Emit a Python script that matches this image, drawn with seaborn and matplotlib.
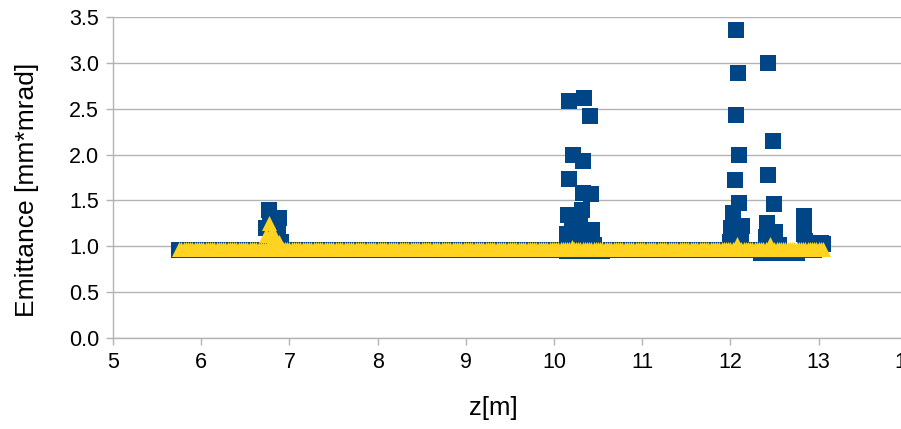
import matplotlib
matplotlib.use("Agg")
import matplotlib.pyplot as plt
import seaborn as sns

# --- data ---
# series 1 (blue squares): flat base + peaks
blue_base_z = [
    5.75, 5.85, 5.95,
    6.05, 6.15, 6.25, 6.35, 6.45, 6.55, 6.65, 6.75, 6.85, 6.95,
    7.05, 7.15, 7.25, 7.35, 7.45, 7.55, 7.65, 7.75, 7.85, 7.95,
    8.05, 8.15, 8.25, 8.35, 8.45, 8.55, 8.65, 8.75, 8.85, 8.95,
    9.05, 9.15, 9.25, 9.35, 9.45, 9.55, 9.65, 9.75, 9.85, 9.95,
    10.05, 10.15, 10.25, 10.35, 10.45, 10.55, 10.65, 10.75, 10.85, 10.95,
    11.05, 11.15, 11.25, 11.35, 11.45, 11.55, 11.65, 11.75, 11.85, 11.95,
    12.05, 12.15, 12.25, 12.35, 12.45, 12.55, 12.65, 12.75, 12.85, 12.95,
    13.05,
]
blue_base_e = [
    0.965, 0.96, 0.96,
    0.96, 0.96, 0.96, 0.96, 0.96, 0.96, 0.96, 0.96, 0.96, 0.96,
    0.96, 0.96, 0.96, 0.96, 0.96, 0.96, 0.96, 0.96, 0.96, 0.96,
    0.96, 0.96, 0.96, 0.96, 0.96, 0.96, 0.96, 0.96, 0.96, 0.96,
    0.96, 0.96, 0.96, 0.96, 0.96, 0.96, 0.96, 0.96, 0.96, 0.96,
    0.96, 0.95, 0.95, 0.95, 0.95, 0.95, 0.96, 0.96, 0.96, 0.96,
    0.96, 0.96, 0.96, 0.96, 0.96, 0.96, 0.96, 0.96, 0.96, 0.96,
    0.96, 0.96, 0.96, 0.93, 0.93, 0.93, 0.93, 0.93, 0.96, 0.96,
    1.03,
]
blue_peak_z = [
    6.74, 6.77, 6.78, 6.80, 6.85, 6.88, 6.87, 6.90,
    10.17, 10.34, 10.41, 10.22, 10.33, 10.17, 10.33, 10.42, 10.16, 10.32,
    10.43, 10.15, 10.30, 10.20, 10.25, 10.35, 10.40, 10.45, 10.20,
    12.06, 12.43, 12.09, 12.06, 12.48, 12.10, 12.43, 12.05, 12.49, 12.10,
    12.03, 12.41, 12.51, 12.01, 12.13, 12.07, 12.00, 12.12, 12.40, 12.45,
    12.50, 12.55, 12.83, 12.83, 12.84, 12.83, 12.85, 12.90, 13.03,
]
blue_peak_e = [
    1.20, 1.40, 1.30, 1.10, 1.15, 1.31, 1.20, 1.05,
    2.58, 2.61, 2.42, 2.00, 1.93, 1.735, 1.58, 1.57, 1.34, 1.40,
    1.18, 1.14, 1.25, 1.20, 1.10, 1.08, 1.05, 1.02, 1.05,
    3.35, 3.00, 2.89, 2.43, 2.15, 2.00, 1.78, 1.72, 1.46, 1.47,
    1.36, 1.25, 1.16, 1.20, 1.22, 1.10, 1.05, 1.05, 1.10, 1.05,
    1.08, 1.02, 1.33, 1.27, 1.20, 1.13, 1.06, 1.02, 1.04,
]

# series 2 (yellow triangles), densely sampled flat base + small bumps
yellow_base_z = [
    5.750, 5.775, 5.800, 5.825, 5.850, 5.875, 5.900, 5.925, 5.950, 5.975,
    6.000, 6.025, 6.050, 6.075, 6.100, 6.125, 6.150, 6.175, 6.200, 6.225,
    6.250, 6.275, 6.300, 6.325, 6.350, 6.375, 6.400, 6.425, 6.450, 6.475,
    6.500, 6.525, 6.550, 6.575, 6.600, 6.625, 6.650, 6.675, 6.700, 6.725,
    6.750, 6.775, 6.800, 6.825, 6.850, 6.875, 6.900, 6.925, 6.950, 6.975,
    7.000, 7.025, 7.050, 7.075, 7.100, 7.125, 7.150, 7.175, 7.200, 7.225,
    7.250, 7.275, 7.300, 7.325, 7.350, 7.375, 7.400, 7.425, 7.450, 7.475,
    7.500, 7.525, 7.550, 7.575, 7.600, 7.625, 7.650, 7.675, 7.700, 7.725,
    7.750, 7.775, 7.800, 7.825, 7.850, 7.875, 7.900, 7.925, 7.950, 7.975,
    8.000, 8.025, 8.050, 8.075, 8.100, 8.125, 8.150, 8.175, 8.200, 8.225,
    8.250, 8.275, 8.300, 8.325, 8.350, 8.375, 8.400, 8.425, 8.450, 8.475,
    8.500, 8.525, 8.550, 8.575, 8.600, 8.625, 8.650, 8.675, 8.700, 8.725,
    8.750, 8.775, 8.800, 8.825, 8.850, 8.875, 8.900, 8.925, 8.950, 8.975,
    9.000, 9.025, 9.050, 9.075, 9.100, 9.125, 9.150, 9.175, 9.200, 9.225,
    9.250, 9.275, 9.300, 9.325, 9.350, 9.375, 9.400, 9.425, 9.450, 9.475,
    9.500, 9.525, 9.550, 9.575, 9.600, 9.625, 9.650, 9.675, 9.700, 9.725,
    9.750, 9.775, 9.800, 9.825, 9.850, 9.875, 9.900, 9.925, 9.950, 9.975,
    10.000, 10.025, 10.050, 10.075, 10.100, 10.125, 10.150, 10.175, 10.200, 10.225,
    10.250, 10.275, 10.300, 10.325, 10.350, 10.375, 10.400, 10.425, 10.450, 10.475,
    10.500, 10.525, 10.550, 10.575, 10.600, 10.625, 10.650, 10.675, 10.700, 10.725,
    10.750, 10.775, 10.800, 10.825, 10.850, 10.875, 10.900, 10.925, 10.950, 10.975,
    11.000, 11.025, 11.050, 11.075, 11.100, 11.125, 11.150, 11.175, 11.200, 11.225,
    11.250, 11.275, 11.300, 11.325, 11.350, 11.375, 11.400, 11.425, 11.450, 11.475,
    11.500, 11.525, 11.550, 11.575, 11.600, 11.625, 11.650, 11.675, 11.700, 11.725,
    11.750, 11.775, 11.800, 11.825, 11.850, 11.875, 11.900, 11.925, 11.950, 11.975,
    12.000, 12.025, 12.050, 12.075, 12.100, 12.125, 12.150, 12.175, 12.200, 12.225,
    12.250, 12.275, 12.300, 12.325, 12.350, 12.375, 12.400, 12.425, 12.450, 12.475,
    12.500, 12.525, 12.550, 12.575, 12.600, 12.625, 12.650, 12.675, 12.700, 12.725,
    12.750, 12.775, 12.800, 12.825, 12.850, 12.875, 12.900, 12.925, 12.950, 12.975,
    13.000, 13.025, 13.050,
]
yellow_base_e = [
    0.975, 0.975, 0.975, 0.975, 0.975, 0.975, 0.975, 0.975, 0.975, 0.975,
    0.975, 0.975, 0.975, 0.975, 0.975, 0.975, 0.975, 0.975, 0.975, 0.975,
    0.975, 0.975, 0.975, 0.975, 0.975, 0.975, 0.975, 0.975, 0.975, 0.975,
    0.975, 0.975, 0.975, 0.975, 0.975, 0.975, 0.975, 0.975, 0.975, 0.975,
    0.975, 0.975, 0.975, 0.975, 0.975, 0.975, 0.975, 0.975, 0.975, 0.975,
    0.975, 0.975, 0.975, 0.975, 0.975, 0.975, 0.975, 0.975, 0.975, 0.975,
    0.975, 0.975, 0.975, 0.975, 0.975, 0.975, 0.975, 0.975, 0.975, 0.975,
    0.975, 0.975, 0.975, 0.975, 0.975, 0.975, 0.975, 0.975, 0.975, 0.975,
    0.975, 0.975, 0.975, 0.975, 0.975, 0.975, 0.975, 0.975, 0.975, 0.975,
    0.975, 0.975, 0.975, 0.975, 0.975, 0.975, 0.975, 0.975, 0.975, 0.975,
    0.975, 0.975, 0.975, 0.975, 0.975, 0.975, 0.975, 0.975, 0.975, 0.975,
    0.975, 0.975, 0.975, 0.975, 0.975, 0.975, 0.975, 0.975, 0.975, 0.975,
    0.975, 0.975, 0.975, 0.975, 0.975, 0.975, 0.975, 0.975, 0.975, 0.975,
    0.975, 0.975, 0.975, 0.975, 0.975, 0.975, 0.975, 0.975, 0.975, 0.975,
    0.975, 0.975, 0.975, 0.975, 0.975, 0.975, 0.975, 0.975, 0.975, 0.975,
    0.975, 0.975, 0.975, 0.975, 0.975, 0.975, 0.975, 0.975, 0.975, 0.975,
    0.975, 0.975, 0.975, 0.975, 0.975, 0.975, 0.975, 0.975, 0.975, 0.975,
    0.975, 0.975, 0.975, 0.975, 0.975, 0.975, 0.975, 0.975, 0.975, 0.975,
    0.975, 0.975, 0.975, 0.975, 0.975, 0.975, 0.975, 0.975, 0.975, 0.975,
    0.975, 0.975, 0.975, 0.975, 0.975, 0.975, 0.975, 0.975, 0.975, 0.975,
    0.975, 0.975, 0.975, 0.975, 0.975, 0.975, 0.975, 0.975, 0.975, 0.975,
    0.975, 0.975, 0.975, 0.975, 0.975, 0.975, 0.975, 0.975, 0.975, 0.975,
    0.975, 0.975, 0.975, 0.975, 0.975, 0.975, 0.975, 0.975, 0.975, 0.975,
    0.975, 0.975, 0.975, 0.975, 0.975, 0.975, 0.975, 0.975, 0.975, 0.975,
    0.975, 0.975, 0.975, 0.975, 0.975, 0.975, 0.975, 0.975, 0.975, 0.975,
    0.975, 0.975, 0.975, 0.975, 0.975, 0.975, 0.975, 0.975, 0.975, 0.975,
    0.975, 0.975, 0.975, 0.975, 0.975, 0.975, 0.975, 0.975, 0.975, 0.975,
    0.975, 0.975, 0.975, 0.975, 0.975, 0.975, 0.975, 0.975, 0.975, 0.975,
    0.975, 0.975, 0.975, 0.975, 0.975, 0.975, 0.975, 0.975, 0.975, 0.975,
    0.975, 0.975, 0.975,
]
yellow_peak_z = [6.74, 6.77, 6.80, 6.83, 6.88, 10.20, 12.07, 12.45]
yellow_peak_e = [1.12, 1.26, 1.17, 1.10, 1.05, 0.99, 1.03, 1.03]

x_ticks = [5, 6, 7, 8, 9, 10, 11, 12, 13, 14]
y_ticks = [0.0, 0.5, 1.0, 1.5, 2.0, 2.5, 3.0, 3.5]

BLUE = "#004586"
YELLOW = "#ffd320"
GRID = "#b3b3b3"

sns.set_theme(style="white")
plt.rcParams["font.family"] = ["Liberation Sans", "DejaVu Sans"]

fig = plt.figure(figsize=(9.01, 4.29), dpi=100)
ax = fig.add_axes([0.1254, 0.2114, 0.881, 0.7497])

sns.scatterplot(x=blue_base_z + blue_peak_z, y=blue_base_e + blue_peak_e,
                marker="s", color=BLUE, s=117, linewidth=0, ax=ax, zorder=3)
sns.scatterplot(x=yellow_base_z + yellow_peak_z, y=yellow_base_e + yellow_peak_e,
                marker="^", color=YELLOW, s=117, linewidth=0, ax=ax, zorder=4)

ax.set_xlim(5, 14)
ax.set_ylim(0, 3.5)
ax.set_xticks(x_ticks)
ax.set_xticklabels([str(t) for t in x_ticks])
ax.set_yticks(y_ticks)
ax.set_yticklabels([f"{t:.1f}" for t in y_ticks])

ax.yaxis.grid(True, color=GRID, linewidth=1)
ax.xaxis.grid(False)
ax.set_axisbelow(True)
for side in ["top", "right"]:
    ax.spines[side].set_visible(False)
for side in ["left", "bottom"]:
    ax.spines[side].set_color(GRID)
    ax.spines[side].set_linewidth(1)

ax.tick_params(axis="both", which="major", direction="out", length=5,
               width=1, color=GRID, labelsize=15.5, labelcolor="#000000", pad=5,
               bottom=True, left=True)

ax.set_xlabel("z[m]", fontsize=18.5, color="#000000")
ax.set_ylabel("Emittance [mm*mrad]", fontsize=19, color="#000000")
ax.xaxis.set_label_coords(0.479, -0.18)
ax.yaxis.set_label_coords(-0.093, 0.461)

fig.savefig("out.png", dpi=100)
